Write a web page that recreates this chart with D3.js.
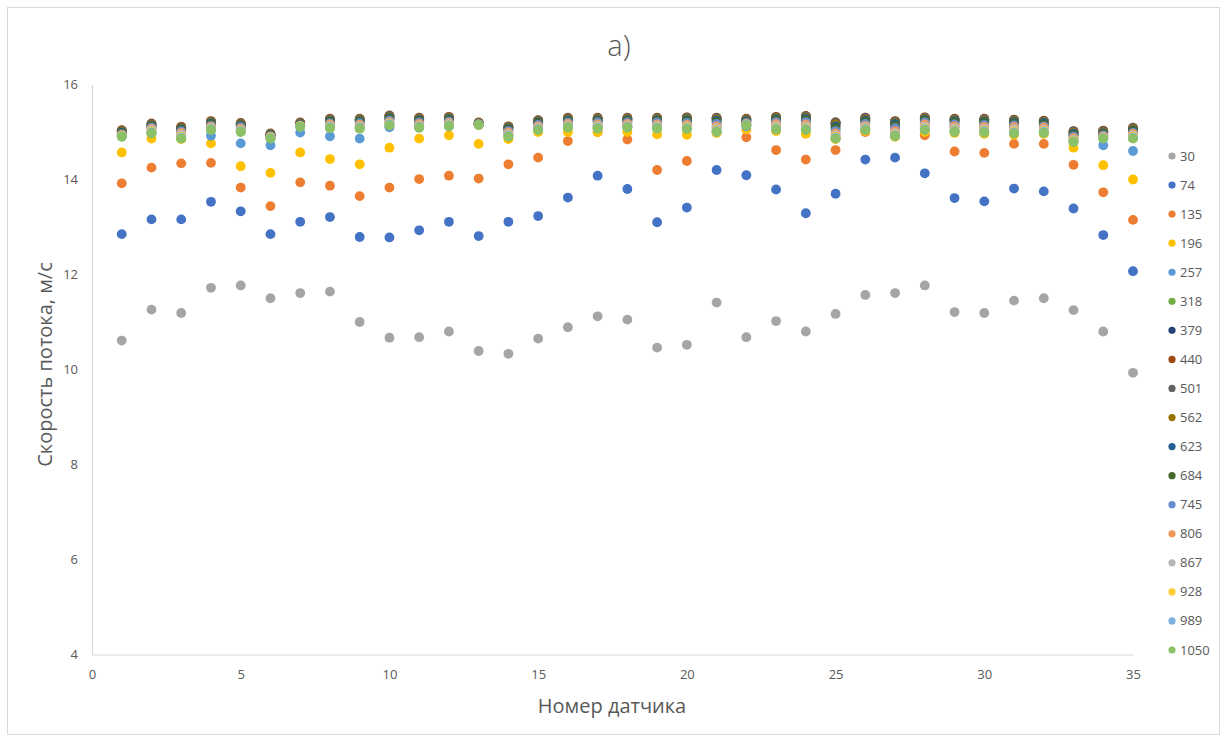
<!DOCTYPE html>
<html>
<head>
<meta charset="utf-8">
<script src="https://cdn.jsdelivr.net/npm/d3@7"></script>
<style>
  html, body { margin: 0; padding: 0; background: #ffffff; }
  svg { display: block; font-family: "Open Sans", "Noto Sans", sans-serif; }
</style>
</head>
<body>
<svg id="chart" width="1227" height="740"></svg>
<script>
// ---------- data ----------
const sensors = d3.range(1, 36); // sensor numbers 1..35
const seriesNames = ["30","74","135","196","257","318","379","440","501","562","623","684","745","806","867","928","989","1050"];
const seriesColors = ["#A5A5A5","#4472C4","#ED7D31","#FFC000","#5B9BD5","#70AD47","#264478","#9E480E","#636363","#997300","#255E91","#43682B","#698ED0","#F1975A","#B7B7B7","#FFCD33","#7CAFDD","#8CC168"];

const s30  = [10.61,11.26,11.19,11.72,11.77,11.50,11.61,11.64,11.00,10.67,10.68,10.80,10.39,10.33,10.65,10.89,11.12,11.05,10.46,10.52,11.41,10.68,11.02,10.80,11.17,11.57,11.61,11.77,11.21,11.19,11.45,11.50,11.25,10.80,9.93];
const s74  = [12.85,13.16,13.16,13.53,13.33,12.85,13.11,13.21,12.79,12.78,12.93,13.11,12.81,13.11,13.23,13.62,14.08,13.80,13.10,13.41,14.20,14.09,13.79,13.29,13.70,14.42,14.46,14.13,13.61,13.54,13.81,13.75,13.39,12.83,12.07];
const s135 = [13.92,14.25,14.34,14.35,13.83,13.44,13.94,13.87,13.65,13.83,14.01,14.08,14.02,14.32,14.46,14.81,15.00,14.84,14.20,14.39,15.00,14.89,14.62,14.42,14.62,15.00,14.96,14.93,14.59,14.56,14.75,14.75,14.31,13.73,13.15];
const s196 = [14.57,14.86,14.85,14.76,14.28,14.14,14.57,14.43,14.32,14.67,14.86,14.93,14.75,14.85,15.00,15.00,15.00,15.00,14.95,14.94,14.98,15.05,15.02,14.96,14.85,15.02,14.90,15.00,14.98,14.96,14.94,14.96,14.67,14.30,14.00];
const s257 = [14.92,14.98,14.95,14.92,14.76,14.72,14.99,14.91,14.86,15.10,15.10,15.12,15.15,14.95,15.10,15.12,15.12,15.12,15.10,15.12,15.10,15.12,15.15,15.25,15.18,15.30,15.22,15.15,15.10,15.08,15.06,15.05,14.85,14.72,14.60];
const s318 = [14.91,14.98,14.87,15.05,15.01,14.87,15.12,15.09,15.08,15.15,15.10,15.13,15.16,14.91,15.05,15.10,15.08,15.10,15.08,15.07,15.01,15.15,15.06,15.05,14.87,15.05,14.92,15.05,15.01,15.00,14.98,14.99,14.80,14.87,14.87];
const s379 = [15.02,15.16,15.10,15.21,15.17,14.95,15.18,15.26,15.26,15.33,15.28,15.30,15.19,15.10,15.24,15.28,15.28,15.28,15.28,15.29,15.29,15.26,15.30,15.32,15.20,15.28,15.22,15.29,15.26,15.26,15.25,15.22,15.00,15.01,15.07];
const s440 = [15.04,15.18,15.11,15.23,15.19,14.97,15.20,15.28,15.28,15.35,15.30,15.32,15.20,15.12,15.25,15.30,15.30,15.30,15.30,15.31,15.30,15.28,15.32,15.34,15.20,15.30,15.23,15.31,15.28,15.28,15.26,15.24,15.02,15.03,15.09];
const s501 = [15.03,15.17,15.09,15.22,15.18,14.96,15.19,15.27,15.27,15.34,15.29,15.31,15.19,15.11,15.24,15.29,15.29,15.29,15.29,15.30,15.29,15.27,15.31,15.33,15.19,15.29,15.22,15.30,15.27,15.27,15.25,15.23,15.01,15.02,15.08];
const s562 = [15.01,15.15,15.08,15.20,15.16,14.94,15.17,15.25,15.25,15.31,15.27,15.29,15.18,15.09,15.22,15.27,15.27,15.27,15.27,15.27,15.26,15.25,15.29,15.30,15.16,15.26,15.19,15.28,15.25,15.24,15.23,15.21,14.98,14.99,15.05];
const s623 = [14.99,15.13,15.06,15.18,15.14,14.93,15.16,15.23,15.23,15.29,15.25,15.27,15.17,15.07,15.20,15.25,15.25,15.25,15.25,15.25,15.24,15.23,15.27,15.28,15.12,15.24,15.17,15.26,15.23,15.22,15.21,15.19,14.96,14.97,15.03];
const s684 = [14.97,15.11,15.04,15.16,15.12,14.92,15.15,15.21,15.21,15.27,15.23,15.25,15.17,15.05,15.18,15.23,15.23,15.23,15.23,15.23,15.21,15.21,15.25,15.25,15.08,15.21,15.13,15.24,15.20,15.19,15.18,15.16,14.93,14.95,15.01];
const s745 = [14.95,15.09,15.01,15.13,15.10,14.91,15.14,15.18,15.18,15.24,15.20,15.22,15.16,15.02,15.15,15.20,15.20,15.20,15.20,15.19,15.17,15.19,15.21,15.21,15.02,15.17,15.08,15.20,15.16,15.15,15.14,15.12,14.90,14.93,14.98];
const s806 = [14.94,15.07,14.98,15.11,15.07,14.90,15.13,15.16,15.15,15.21,15.17,15.19,15.16,14.99,15.12,15.17,15.16,15.17,15.16,15.15,15.12,15.17,15.17,15.16,14.97,15.13,15.02,15.16,15.12,15.11,15.10,15.09,14.87,14.91,14.96];
const s867 = [14.93,15.05,14.95,15.09,15.05,14.89,15.12,15.13,15.12,15.19,15.14,15.17,15.14,14.96,15.09,15.14,15.13,15.14,15.13,15.12,15.08,15.16,15.13,15.12,14.93,15.10,14.98,15.12,15.08,15.07,15.06,15.05,14.84,14.89,14.93];
const s928 = [14.92,15.01,14.90,15.07,15.03,14.88,15.12,15.11,15.10,15.17,15.12,15.15,15.15,14.93,15.07,15.12,15.10,15.12,15.10,15.10,15.04,15.15,15.09,15.08,14.90,15.07,14.95,15.08,15.04,15.03,15.01,15.02,14.82,14.88,14.90];
const s989 = [14.91,14.99,14.88,15.06,15.02,14.87,15.11,15.10,15.09,15.16,15.11,15.14,15.16,14.92,15.06,15.11,15.09,15.11,15.09,15.08,15.02,15.15,15.07,15.06,14.88,15.06,14.93,15.06,15.02,15.01,14.99,15.00,14.80,14.87,14.88];
const s1050 = [14.90,14.97,14.86,15.04,15.00,14.86,15.11,15.08,15.07,15.14,15.09,15.12,15.15,14.90,15.04,15.09,15.07,15.09,15.07,15.06,15.00,15.14,15.05,15.04,14.86,15.04,14.91,15.04,15.00,14.99,14.97,14.98,14.79,14.86,14.86];

const seriesValues = [s30,s74,s135,s196,s257,s318,s379,s440,s501,s562,s623,s684,s745,s806,s867,s928,s989,s1050];

const xTicks = [0,5,10,15,20,25,30,35];
const yTicks = [4,6,8,10,12,14,16];
const titleText = "a)";
const xTitle = "Номер датчика";
const yTitle = "Скорость потока, м/с";

// ---------- layout ----------
(function () {
const svg = d3.select("#chart");
const pLeft = 92, pRight = 1133, pTop = 84.5, pBottom = 654.5;
const x = d3.scaleLinear().domain([0, 35]).range([pLeft, pRight]);
const y = d3.scaleLinear().domain([4, 16]).range([pBottom, pTop]);
const textColor = "#595959";
const axisColor = "#d9d9d9";

// outer chart border
svg.append("rect").attr("x", 7.5).attr("y", 7.5).attr("width", 1212).attr("height", 727)
  .attr("fill", "#fff").attr("stroke", "#d9d9d9").attr("stroke-width", 1);

// title
svg.append("text").attr("x", 619).attr("y", 56).attr("text-anchor", "middle")
  .attr("font-size", 29).attr("fill", textColor).attr("font-weight", 300).text(titleText);

// axes
const xAxis = d3.axisBottom(x).tickValues(xTicks).tickSize(0).tickPadding(15).tickFormat(d3.format("d"));
const gx = svg.append("g").attr("transform", `translate(0,${pBottom})`).call(xAxis);
gx.select(".domain").attr("stroke", axisColor).attr("stroke-width", 1.2);
gx.selectAll("text").attr("fill", textColor).attr("font-size", 13).attr("font-family", "Open Sans");

const yAxis = d3.axisLeft(y).tickValues(yTicks).tickSize(0).tickPadding(14).tickFormat(d3.format("d"));
const gy = svg.append("g").attr("transform", `translate(${pLeft},0)`).call(yAxis);
gy.select(".domain").attr("stroke", axisColor).attr("stroke-width", 1.2);
gy.selectAll("text").attr("fill", textColor).attr("font-size", 13).attr("font-family", "Open Sans");

// axis titles
svg.append("text").attr("x", 612).attr("y", 713).attr("text-anchor", "middle")
  .attr("font-size", 20).attr("fill", textColor).text(xTitle);
svg.append("text").attr("transform", `translate(52,${(pTop + pBottom) / 2 - 5}) rotate(-90)`)
  .attr("text-anchor", "middle").attr("font-size", 20).attr("fill", textColor).text(yTitle);

// points
seriesNames.forEach((name, i) => {
  svg.append("g").selectAll("circle")
    .data(sensors.map((s, j) => ({s, v: seriesValues[i][j]})))
    .join("circle")
    .attr("cx", d => x(d.s)).attr("cy", d => y(d.v)).attr("r", 4.9)
    .attr("fill", seriesColors[i]);
});

// legend
const legY = d3.scalePoint().domain(seriesNames).range([156, 650]);
const leg = svg.append("g");
seriesNames.forEach((name, i) => {
  leg.append("circle").attr("cx", 1172).attr("cy", legY(name)).attr("r", 3.6).attr("fill", seriesColors[i]);
  leg.append("text").attr("x", 1180).attr("y", legY(name)).attr("dy", "0.35em")
    .attr("font-size", 13).attr("fill", textColor).text(name);
});
})();
</script>
</body>
</html>
